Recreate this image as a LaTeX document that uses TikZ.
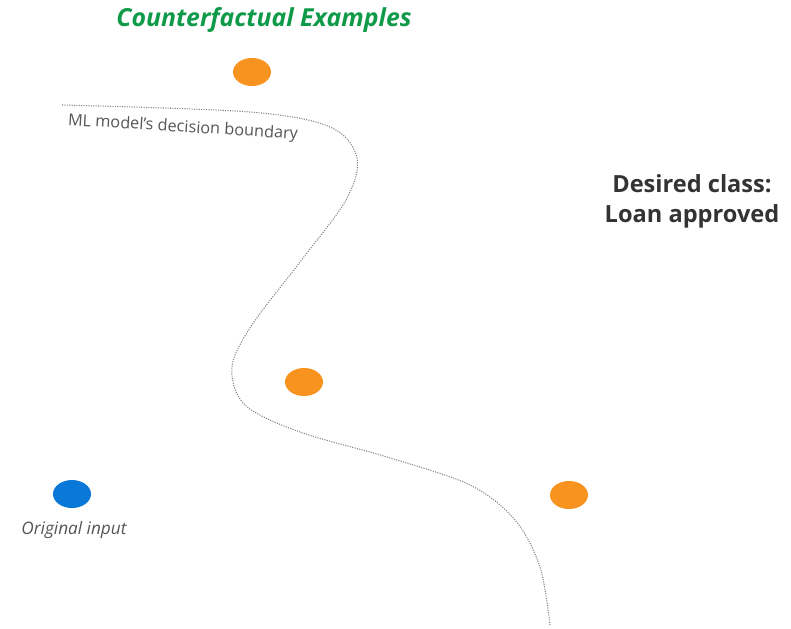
\documentclass[tikz,border=0pt]{standalone}
\usepackage{fontspec}
\setmainfont{Open Sans}
\usetikzlibrary{shapes.geometric}
\definecolor{cforange}{HTML}{F7931E}
\definecolor{cfblue}{HTML}{0A78D7}
\definecolor{cfgreen}{HTML}{0E9A48}
\definecolor{cfgray}{HTML}{555555}
\definecolor{cfdark}{HTML}{333333}
\begin{document}
\begin{tikzpicture}[x=0.75pt,y=-0.75pt,
  pointdot/.style={ellipse,minimum width=28.5pt,minimum height=21pt,inner sep=0pt},
  cfpoint/.style={pointdot,fill=cforange},
  inpoint/.style={pointdot,fill=cfblue},
  boundary/.style={draw=gray,densely dotted,line width=0.8pt}]
\useasboundingbox (0,0) rectangle (791,628);
\node[font=\bfseries\itshape\fontsize{18.6}{22}\selectfont,text=cfgreen] (title) at (264,20) {Counterfactual Examples};
\node[cfpoint] (cf1) at (252,72) {};
\node[cfpoint] (cf2) at (304,382) {};
\node[cfpoint] (cf3) at (569,495) {};
\node[inpoint] (orig) at (72,494) {};
\node[font=\itshape\fontsize{12.9}{15}\selectfont,text=cfgray] (origlbl) at (74,530) {Original input};
\node[font=\bfseries\fontsize{17.7}{22.5}\selectfont,text=cfdark,align=center] (desired) at (692,201) {Desired class:\\Loan approved};
\draw[boundary] plot[smooth,tension=0.55] coordinates {(62,105) (250,112) (330,127) (357,158) (346,200) (300,262) (252,325) (232,367) (245,405) (300,432) (387,457) (470,485) (515,520) (540,567) (550,625)};
\node[font=\fontsize{12.2}{15}\selectfont,text=cfgray,rotate=-3.5] (blbl) at (183,128) {ML model’s decision boundary};
\end{tikzpicture}
\end{document}
